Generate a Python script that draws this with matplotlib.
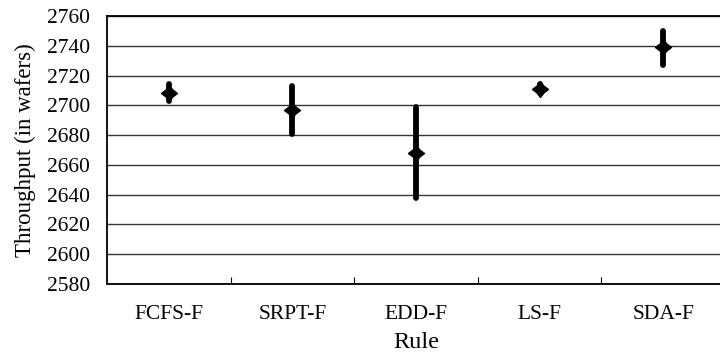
import matplotlib.pyplot as plt
import numpy as np
from matplotlib.path import Path

rules = ["FCFS-F", "SRPT-F", "EDD-F", "LS-F", "SDA-F"]
mean_tp = [2708, 2697, 2668, 2711, 2739]
min_tp = [2703, 2681, 2638, 2708, 2727]
max_tp = [2714, 2713, 2699, 2714, 2750]
y_ticks = list(range(2580, 2761, 20))

plt.rcParams["font.family"] = ["Liberation Serif", "DejaVu Serif"]

# slightly concave diamond, like the spreadsheet marker
k = 0.43
diamond = Path([(0, 1), (k, k), (1, 0), (k, -k), (0, -1), (-k, -k), (-1, 0), (-k, k), (0, 1)],
               [Path.MOVETO] + [Path.LINETO] * 7 + [Path.CLOSEPOLY])

fig = plt.figure(figsize=(7.2, 3.53), dpi=100)
ax = fig.add_axes((107 / 720, 69 / 353, 618 / 720, 268 / 353))

x = np.arange(len(rules))
for xi, lo, hi in zip(x, min_tp, max_tp):
    ax.plot([xi, xi], [lo, hi], color="black", lw=4.2, solid_capstyle="round", zorder=3)
ax.plot(x, mean_tp, linestyle="none", marker=diamond, markersize=11.5,
        color="black", zorder=4)

ax.set_xlim(-0.5, len(rules) - 0.5)
ax.set_ylim(2580, 2760)
ax.set_yticks(y_ticks)
ax.yaxis.grid(True, color="#333333", lw=1.0)
ax.set_axisbelow(True)

ax.set_xticks(x)
ax.set_xticklabels(rules, fontsize=15.5)
ax.set_xticks(x[:-1] + 0.5, minor=True)
ax.tick_params(axis="x", which="major", length=0, pad=15)
ax.tick_params(axis="x", which="minor", direction="in", length=5, width=0.8)
ax.tick_params(axis="y", length=0, pad=12, labelsize=15.5)

for side in ["top", "left", "bottom"]:
    ax.spines[side].set_linestyle((0, (1, 1)))
    ax.spines[side].set_linewidth(1.3)
ax.spines["right"].set_visible(False)

ax.set_xlabel("Rule", fontsize=17.5, labelpad=6)
ax.set_ylabel("Throughput (in wafers)", fontsize=16.5, labelpad=8)

fig.savefig("out.png", dpi=100)
